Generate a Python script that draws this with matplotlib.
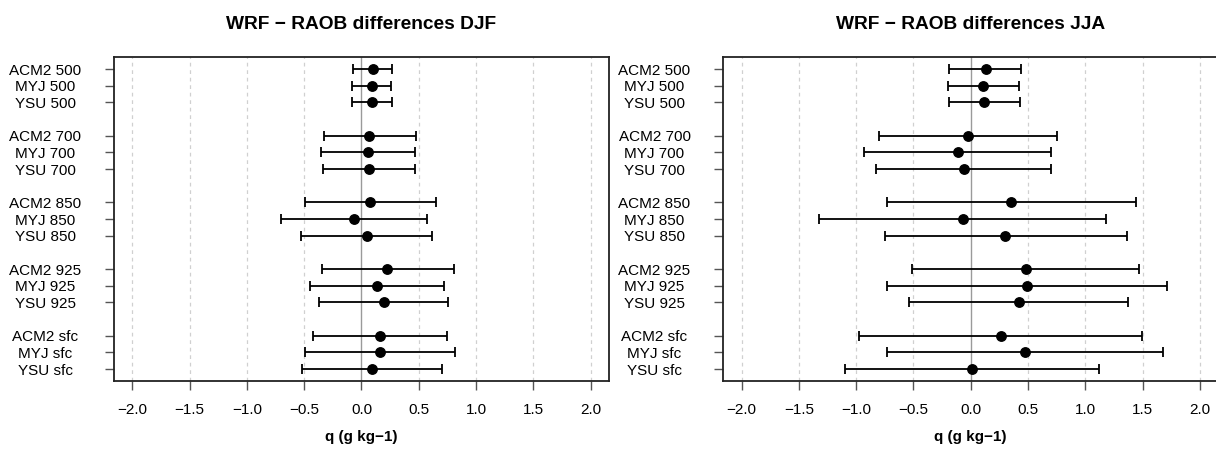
"""
WRF 与探空 (RAOB) 比湿差异：DJF / JJA 两季的均值与误差范围。
"""

import numpy as np
from matplotlib import pyplot as plt

plt.rcParams["font.family"] = ["Liberation Sans", "DejaVu Sans"]

LABELS = [
    "ACM2 500", "MYJ 500", "YSU 500",
    "ACM2 700", "MYJ 700", "YSU 700",
    "ACM2 850", "MYJ 850", "YSU 850",
    "ACM2 925", "MYJ 925", "YSU 925",
    "ACM2 sfc", "MYJ sfc", "YSU sfc",
]

# DJF：均值及上下限
DJF_MEAN = [0.10, 0.09, 0.09, 0.07, 0.06, 0.065, 0.075, -0.065, 0.045,
            0.225, 0.135, 0.195, 0.16, 0.165, 0.09]
DJF_LOW = [-0.075, -0.08, -0.085, -0.33, -0.35, -0.335, -0.495, -0.70, -0.53,
           -0.345, -0.45, -0.37, -0.425, -0.495, -0.52]
DJF_HIGH = [0.27, 0.255, 0.265, 0.48, 0.47, 0.47, 0.655, 0.57, 0.62,
            0.805, 0.72, 0.755, 0.75, 0.82, 0.705]

# JJA：均值及上下限
JJA_MEAN = [0.13, 0.11, 0.12, -0.025, -0.11, -0.06, 0.355, -0.07, 0.30,
            0.48, 0.49, 0.425, 0.26, 0.475, 0.01]
JJA_LOW = [-0.19, -0.20, -0.19, -0.80, -0.93, -0.825, -0.73, -1.325, -0.75,
           -0.51, -0.73, -0.535, -0.975, -0.73, -1.10]
JJA_HIGH = [0.44, 0.42, 0.43, 0.755, 0.705, 0.705, 1.44, 1.18, 1.36,
            1.47, 1.71, 1.375, 1.495, 1.68, 1.12]

SEASONS = ["DJF", "JJA"]
XTICKS = [-2.0, -1.5, -1.0, -0.5, 0.0, 0.5, 1.0, 1.5, 2.0]


def row_positions(n_groups: int = 5, per_group: int = 3) -> np.ndarray:
    """每组三行，组间留一行空白。"""
    pos = []
    for g in range(n_groups):
        for k in range(per_group):
            pos.append(g * (per_group + 1) + k + 1)
    return np.array(pos, dtype=float)


def draw_panel(ax, season, mean, low, high):
    ypos = row_positions()
    mean = np.asarray(mean)
    low = np.asarray(low)
    high = np.asarray(high)

    for x in XTICKS:
        if x == 0.0:
            continue
        ax.axvline(x, color="#d0d0d0", lw=0.9, ls=(0, (3, 3)), zorder=0)
    ax.axvline(0.0, color="#9a9a9a", lw=1.0, zorder=1)

    ax.errorbar(mean, ypos, xerr=[mean - low, high - mean], fmt="o",
                color="black", ms=6.8, elinewidth=1.3, capsize=3.8,
                capthick=1.3, zorder=3)

    ax.set_xlim(-2.16, 2.16)
    ax.set_ylim(19.72, 0.28)
    ax.set_xticks(XTICKS)
    ax.set_xticklabels([f"{x:.1f}".replace("-", "\u2212") for x in XTICKS])
    ax.set_yticks(ypos)
    ax.set_yticklabels(LABELS, ha="center")
    ax.tick_params(axis="y", length=6.5, width=1.0, color="#555555",
                   pad=43, labelsize=11)
    ax.tick_params(axis="x", length=6.5, width=1.0, color="#555555",
                   pad=9, labelsize=11)
    for sp in ax.spines.values():
        sp.set_linewidth(1.3)
        sp.set_color("#222222")

    ax.set_title(f"WRF \u2212 RAOB differences {season}", fontsize=13.8,
                 fontweight="bold", pad=20)
    ax.set_xlabel("q (g kg\u22121)", fontsize=11, fontweight="bold",
                  labelpad=10)


def main() -> None:
    fig = plt.figure(figsize=(12.16, 4.58), dpi=100)
    ax1 = fig.add_axes([0.09375, 0.1681, 0.4070, 0.7074])
    ax2 = fig.add_axes([0.5948, 0.1681, 0.4070, 0.7074])

    draw_panel(ax1, SEASONS[0], DJF_MEAN, DJF_LOW, DJF_HIGH)
    draw_panel(ax2, SEASONS[1], JJA_MEAN, JJA_LOW, JJA_HIGH)

    fig.savefig("out.png", dpi=100)
    plt.close(fig)


if __name__ == "__main__":
    main()
